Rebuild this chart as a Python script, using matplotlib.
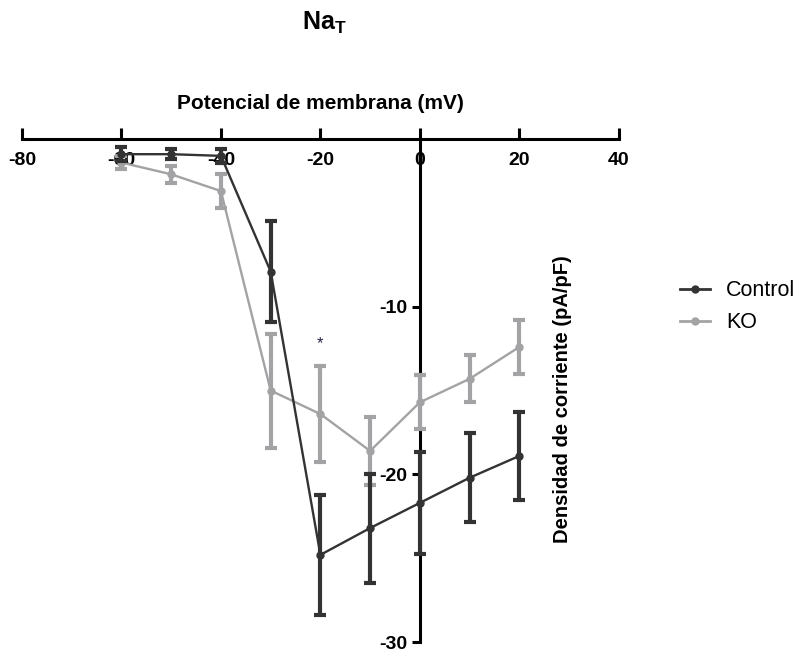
import matplotlib.pyplot as plt
from matplotlib.lines import Line2D

plt.rcParams['font.family'] = ['Liberation Sans', 'DejaVu Sans']
plt.rcParams['axes.unicode_minus'] = False

# Voltage steps (mV)
voltage = [-60, -50, -40, -30, -20, -10, 0, 10, 20]

# Current density (pA/pF), mean and SEM
control_mean = [-0.9, -0.9, -1.0, -7.9, -24.8, -23.2, -21.7, -20.2, -18.9]
control_sem = [0.4, 0.3, 0.4, 3.0, 3.6, 3.25, 3.05, 2.65, 2.6]
ko_mean = [-1.4, -2.1, -3.1, -15.0, -16.4, -18.6, -15.7, -14.3, -12.4]
ko_sem = [0.4, 0.5, 1.0, 3.4, 2.85, 2.05, 1.6, 1.4, 1.6]

# significance mark
star_x = -20
star_y = -12.2

control_color = '#333333'
ko_color = '#a3a3a5'

fig = plt.figure(figsize=(8, 6.54), dpi=100)
ax = fig.add_axes([0.0275, 0.0183, 0.746, 0.769])

ax.errorbar(voltage, ko_mean, yerr=ko_sem, color=ko_color, lw=1.7, marker='o',
            markersize=5, elinewidth=3, capsize=4, capthick=3,
            clip_on=False, zorder=3)
ax.errorbar(voltage, control_mean, yerr=control_sem, color=control_color, lw=1.7,
            marker='o', markersize=5, elinewidth=3, capsize=4, capthick=3,
            clip_on=False, zorder=4)

ax.text(star_x, star_y, '*', ha='center', va='center', fontsize=12,
        color='#222244')

ax.set_xlim(-80, 40)
ax.set_ylim(-30, 0)

ax.spines['right'].set_visible(False)
ax.spines['top'].set_visible(False)
ax.spines['left'].set_position(('data', 0))
ax.spines['bottom'].set_position(('data', 0))
ax.spines['left'].set_linewidth(2.2)
ax.spines['bottom'].set_linewidth(2.2)

ax.set_xticks([-80, -60, -40, -20, 0, 20, 40])
ax.set_yticks([-10, -20, -30])
ax.tick_params(axis='x', direction='in', length=8, width=2.2, pad=9)
ax.tick_params(axis='y', direction='out', length=6, width=2.2, pad=3)
for lab in ax.get_xticklabels() + ax.get_yticklabels():
    lab.set_fontsize(14)
    lab.set_fontweight('bold')

fig.text(0.4006, 0.8425, 'Potencial de membrana (mV)', ha='center', va='center',
         fontsize=15, fontweight='bold')
ax.text(28.6, -15.5, 'Densidad de corriente (pA/pF)', rotation=90, ha='center',
        va='center', fontsize=14.5, fontweight='bold')
fig.text(0.406, 0.965, r'Na$_\mathregular{T}$', ha='center', va='center',
         fontsize=18, fontweight='bold')

handles = [Line2D([], [], color=control_color, lw=2, marker='o', markersize=5),
           Line2D([], [], color=ko_color, lw=2, marker='o', markersize=5)]
fig.legend(handles, ['Control', 'KO'], loc='center left',
           bbox_to_anchor=(0.85, 0.531), frameon=False, fontsize=15.5,
           handlelength=1.4, handletextpad=0.75, labelspacing=0.5,
           borderpad=0, borderaxespad=0)

fig.savefig('out.png', dpi=100)
